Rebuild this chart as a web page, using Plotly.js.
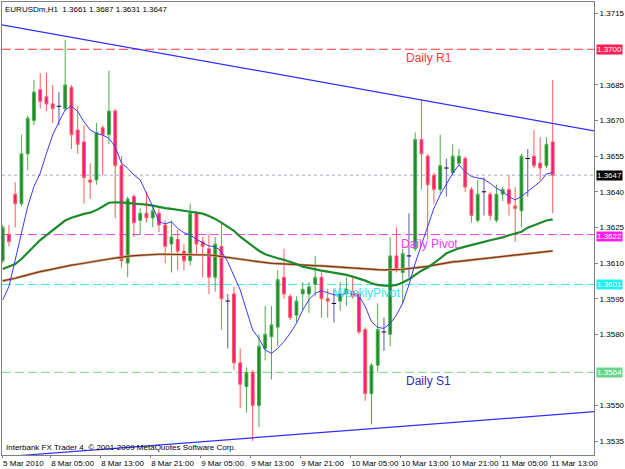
<!DOCTYPE html>
<html><head><meta charset="utf-8">
<script src="https://cdn.plot.ly/plotly-3.0.1.min.js"></script>
<style>html,body{margin:0;padding:0;background:#fff;}#chart{width:625px;height:469px;}</style>
</head><body><div id="chart"></div>
<script>
// ---- data (EURUSDm, H1) ----
const open = [1.3611,1.3622,1.3639,1.3635,1.3656,1.3670,1.3683,1.3680,1.3677,1.3676,
1.3675,1.3684,1.3666,1.3661,1.3645,1.3645,1.3667,1.3664,1.3674,1.3651,
1.3610,1.3638,1.3628,1.3631,1.3629,1.3631,1.3626,1.3618,1.3620,1.3615,
1.3611,1.3631,1.3619,1.3616,1.3604,1.3617,1.3594,1.3597,1.3568,1.3558,
1.3564,1.3550,1.3574,1.3579,1.3583,1.3604,1.3596,1.3588,1.3597,1.3597,
1.3601,1.3604,1.3595,1.3593,1.3594,1.3597,1.3598,1.3597,1.3582,1.3555,
1.3567,1.3581,1.3580,1.3613,1.3606,1.3613,1.3616,1.3662,1.3655,1.3647,
1.3641,1.3650,1.3648,1.3652,1.3654,1.3641,1.3628,1.3640,1.3639,1.3628,
1.3639,1.3641,1.3634,1.3632,1.3654,1.3655,1.3652,1.3651,1.3661];
const high = [1.3626,1.3626,1.3644,1.3664,1.3672,1.3687,1.3690,1.3690,1.3685,1.3682,
1.3704,1.3685,1.3676,1.3668,1.3652,1.3669,1.3668,1.3691,1.3675,1.3655,
1.3638,1.3639,1.3633,1.3640,1.3634,1.3633,1.3628,1.3628,1.3624,1.3618,
1.3635,1.3632,1.3621,1.3622,1.3621,1.3627,1.3597,1.3600,1.3574,1.3566,
1.3565,1.3580,1.3592,1.3592,1.3607,1.3616,1.3597,1.3596,1.3602,1.3602,
1.3613,1.3606,1.3599,1.3599,1.3602,1.3604,1.3604,1.3598,1.3583,1.3568,
1.3593,1.3587,1.3621,1.3625,1.3616,1.3631,1.3665,1.3679,1.3656,1.3648,
1.3664,1.3654,1.3660,1.3658,1.3655,1.3642,1.3645,1.3646,1.3640,1.3643,
1.3642,1.3647,1.3642,1.3656,1.3658,1.3666,1.3663,1.3663,1.3687];
const low = [1.3610,1.3617,1.3625,1.3634,1.3649,1.3668,1.3675,1.3674,1.3669,1.3668,
1.3674,1.3658,1.3656,1.3635,1.3637,1.3643,1.3647,1.3660,1.3629,1.3608,
1.3604,1.3621,1.3622,1.3627,1.3625,1.3623,1.3610,1.3606,1.3607,1.3607,
1.3609,1.3614,1.3604,1.3597,1.3598,1.3582,1.3574,1.3565,1.3549,1.3547,
1.3535,1.3541,1.3569,1.3561,1.3575,1.3595,1.3586,1.3585,1.3590,1.3589,
1.3596,1.3587,1.3587,1.3585,1.3590,1.3592,1.3595,1.3580,1.3552,1.3542,
1.3564,1.3573,1.3575,1.3606,1.3593,1.3604,1.3615,1.3641,1.3620,1.3635,
1.3639,1.3638,1.3647,1.3651,1.3640,1.3627,1.3627,1.3630,1.3628,1.3627,
1.3636,1.3630,1.3619,1.3625,1.3638,1.3650,1.3645,1.3650,1.3631];
const close = [1.3625,1.3619,1.3635,1.3656,1.3671,1.3682,1.3678,1.3677,1.3675,1.3676,
1.3685,1.3664,1.3660,1.3646,1.3644,1.3665,1.3664,1.3674,1.3651,1.3611,
1.3637,1.3627,1.3631,1.3629,1.3632,1.3626,1.3617,1.3621,1.3615,1.3611,
1.3631,1.3618,1.3617,1.3604,1.3618,1.3595,1.3594,1.3568,1.3559,1.3564,
1.3550,1.3575,1.3580,1.3584,1.3603,1.3597,1.3587,1.3594,1.3599,1.3600,
1.3604,1.3595,1.3594,1.3593,1.3597,1.3599,1.3596,1.3581,1.3555,1.3567,
1.3582,1.3581,1.3613,1.3607,1.3614,1.3613,1.3662,1.3656,1.3643,1.3641,
1.3651,1.3650,1.3655,1.3655,1.3642,1.3630,1.3639,1.3640,1.3630,1.3639,
1.3641,1.3635,1.3633,1.3655,1.3654,1.3651,1.3650,1.3660,1.3647];
const maFast = [1.35945,1.36001,1.36113,1.36225,1.36338,1.36422,1.36478,1.36562,1.36639,1.36695,
1.36745,1.36761,1.36738,1.36695,1.36660,1.36646,1.36639,1.36625,1.36590,1.36520,
1.36499,1.36471,1.36450,1.36394,1.36338,1.36274,1.36265,1.36274,1.36246,1.36228,
1.36218,1.36200,1.36186,1.36172,1.36169,1.36148,1.36106,1.36050,1.35987,1.35902,
1.35818,1.35783,1.35734,1.35720,1.35741,1.35769,1.35804,1.35846,1.35902,1.35945,
1.35973,1.35984,1.35975,1.35966,1.35966,1.35973,1.35970,1.35961,1.35917,1.35853,
1.35829,1.35825,1.35846,1.35881,1.35931,1.36008,1.36099,1.36176,1.36253,1.36331,
1.36387,1.36433,1.36478,1.36513,1.36485,1.36464,1.36457,1.36453,1.36436,1.36415,
1.36401,1.36380,1.36366,1.36380,1.36401,1.36422,1.36443,1.36475,1.36481];
const maMid = [1.36075,1.36084,1.36096,1.36117,1.36144,1.36172,1.36197,1.36218,1.36239,1.36259,
1.36279,1.36291,1.36300,1.36307,1.36312,1.36323,1.36338,1.36354,1.36356,1.36356,
1.36353,1.36350,1.36349,1.36346,1.36342,1.36336,1.36331,1.36328,1.36323,1.36321,
1.36316,1.36312,1.36308,1.36298,1.36286,1.36270,1.36253,1.36236,1.36211,1.36190,
1.36169,1.36152,1.36137,1.36127,1.36120,1.36114,1.36106,1.36096,1.36085,1.36079,
1.36072,1.36068,1.36064,1.36060,1.36055,1.36050,1.36043,1.36036,1.36026,1.36015,
1.36008,1.36005,1.36004,1.36008,1.36018,1.36032,1.36050,1.36068,1.36081,1.36099,
1.36120,1.36141,1.36152,1.36162,1.36169,1.36175,1.36180,1.36189,1.36196,1.36201,
1.36208,1.36217,1.36225,1.36232,1.36249,1.36260,1.36270,1.36279,1.36284];
const maSlow = [1.36025,1.36029,1.36036,1.36043,1.36051,1.36058,1.36064,1.36069,1.36075,1.36081,
1.36085,1.36091,1.36095,1.36100,1.36105,1.36109,1.36113,1.36117,1.36121,1.36126,
1.36128,1.36131,1.36133,1.36134,1.36135,1.36137,1.36137,1.36137,1.36137,1.36137,
1.36137,1.36137,1.36135,1.36134,1.36131,1.36128,1.36124,1.36120,1.36116,1.36113,
1.36109,1.36105,1.36102,1.36099,1.36098,1.36096,1.36095,1.36093,1.36092,1.36091,
1.36089,1.36088,1.36086,1.36085,1.36084,1.36082,1.36079,1.36078,1.36077,1.36074,
1.36072,1.36071,1.36071,1.36072,1.36074,1.36077,1.36079,1.36082,1.36086,1.36091,
1.36096,1.36100,1.36105,1.36107,1.36110,1.36113,1.36117,1.36120,1.36123,1.36126,
1.36128,1.36131,1.36134,1.36137,1.36140,1.36142,1.36145,1.36148,1.36151];
// trendline anchors [bar, price]
const trendUpperBars = [-1, 96];
const trendUpperPrices = [1.37107, 1.36650];
const trendLowerBars = [-1, 96];
const trendLowerPrices = [1.35282, 1.35477];
// levels
const levelNames = ["Daily R1", "Daily Pivot", "WeeklyPivot", "Daily S1"];
const levelValues = [1.3700, 1.3622, 1.3601, 1.3564];
const bidPrice = 1.3647;
// axes
const tickBars = [0, 8, 16, 24, 32, 40, 48, 56, 64, 72, 80, 88];
const tickText = ["5 Mar 2010","8 Mar 05:00","8 Mar 13:00","8 Mar 21:00","9 Mar 05:00","9 Mar 13:00",
 "9 Mar 21:00","10 Mar 05:00","10 Mar 13:00","10 Mar 21:00","11 Mar 05:00","11 Mar 13:00"];
const priceTicks = [1.3715,1.3685,1.3670,1.3655,1.3640,1.3625,1.3610,1.3595,1.3580,1.3550,1.3535];
const titleText = "EURUSDm,H1  1.3661 1.3687 1.3631 1.3647";
const footerText = "Interbank FX Trader 4, \u00a9 2001-2009 MetaQuotes Software Corp.";

// ---- styles ----
const levelColors = ["#ff3838", "#f040f0", "#38e6f0", "#78d88c"];
const levelTextColors = ["#ff3838", "#f040f0", "#38e6f0", "#2f2fb5"];
const levelBoxColors = ["#ff1f55", "#ff20f0", "#20f0f0", "#66d68a"];
const levelLabelBars = [64.2, 63.4, 52.7, 64.2];
const levelBoxShift = [0, -2, 0, 0];
const FONT = "Liberation Sans, Arial, sans-serif";
const X0 = -0.112, X1 = 94.61;

const bars = open.map((_, i) => i);
const isDoji = bars.map(i => open[i] === close[i]);
const cIdx = bars.filter(i => !isDoji[i]);
const dIdx = bars.filter(i => isDoji[i]);

const traces = [];
traces.push({type:'scatter', mode:'lines', x: trendUpperBars, y: trendUpperPrices,
  line:{color:'#2e2eff', width:1.2}, hoverinfo:'skip', showlegend:false});
traces.push({type:'scatter', mode:'lines', x: trendLowerBars, y: trendLowerPrices,
  line:{color:'#2e2eff', width:1.2}, hoverinfo:'skip', showlegend:false});
traces.push({type:'candlestick', x: cIdx,
  open: cIdx.map(i=>open[i]), high: cIdx.map(i=>high[i]), low: cIdx.map(i=>low[i]), close: cIdx.map(i=>close[i]),
  increasing:{line:{color:'#4cae4c', width:1}, fillcolor:'#1a8a2a'},
  decreasing:{line:{color:'#ff5c5c', width:1}, fillcolor:'#ff168c'},
  whiskerwidth:0, hoverinfo:'skip', showlegend:false});
traces.push({type:'scatter', mode:'lines',
  x: dIdx.flatMap(i=>[i,i,null]), y: dIdx.flatMap(i=>[low[i],high[i],null]),
  line:{color:'#7c7cc4', width:1.3}, hoverinfo:'skip', showlegend:false});
traces.push({type:'scatter', mode:'lines',
  x: dIdx.flatMap(i=>[i-0.35,i+0.35,null]), y: dIdx.flatMap(i=>[open[i],open[i],null]),
  line:{color:'#000000', width:1}, hoverinfo:'skip', showlegend:false});
traces.push({type:'scatter', mode:'lines', x: bars, y: maSlow,
  line:{color:'#d9a878', width:2.6}, hoverinfo:'skip', showlegend:false});
traces.push({type:'scatter', mode:'lines', x: bars, y: maSlow,
  line:{color:'#7a341c', width:1.2}, hoverinfo:'skip', showlegend:false});
traces.push({type:'scatter', mode:'lines', x: bars, y: maMid,
  line:{color:'#1e8a2a', width:2.2}, hoverinfo:'skip', showlegend:false});
traces.push({type:'scatter', mode:'lines', x: bars, y: maFast,
  line:{color:'#3a3aff', width:1}, hoverinfo:'skip', showlegend:false});

const shapes = levelValues.map((v, k) => ({type:'line', xref:'paper', x0:0, x1:1, yref:'y', y0:v, y1:v,
  line:{color:levelColors[k], width:1, dash:'9px,4px'}, layer:'below'}));
shapes.push({type:'line', xref:'paper', x0:0, x1:1, yref:'y', y0:bidPrice, y1:bidPrice,
  line:{color:'#a4a4d4', width:1, dash:'dot'}, layer:'below'});

const annotations = [];
levelNames.forEach((n, k) => {
  annotations.push({text:n, x:levelLabelBars[k], xref:'x', xanchor:'left', y:levelValues[k], yref:'y', yanchor:'top',
    yshift:0, showarrow:false, font:{family:FONT, size:12, color:levelTextColors[k]}});
  annotations.push({text:levelValues[k].toFixed(4), xref:'paper', x:1, xanchor:'left', xshift:2,
    y:levelValues[k], yref:'y', yanchor:'middle', yshift:levelBoxShift[k], height:9, valign:'middle',
    showarrow:false, bgcolor:levelBoxColors[k], borderpad:0,
    font:{family:FONT, size:8, color:'#ffffff'}});
});
annotations.push({text:bidPrice.toFixed(4), xref:'paper', x:1, xanchor:'left', xshift:2,
  y:bidPrice, yref:'y', yanchor:'middle', height:9, valign:'middle', showarrow:false, bgcolor:'#000000', borderpad:0,
  font:{family:FONT, size:8, color:'#ffffff'}});
annotations.push({text:titleText, xref:'paper', x:0, xanchor:'left', xshift:1, yref:'paper', y:1, yanchor:'top', yshift:-1,
  showarrow:false, font:{family:FONT, size:8, color:'#000000'}});
annotations.push({text:footerText, xref:'paper', x:0, xanchor:'left', xshift:2, yref:'paper', y:0, yanchor:'bottom', yshift:1,
  showarrow:false, font:{family:FONT, size:8, color:'#000000'}});

const layout = {
  width:625, height:469,
  margin:{l:2, r:31, t:2, b:14, pad:0},
  paper_bgcolor:'#ffffff', plot_bgcolor:'#ffffff',
  showlegend:false, hovermode:false,
  xaxis:{type:'linear', range:[X0, X1], rangeslider:{visible:false},
    tickmode:'array', tickvals: tickBars.map(b=>Math.max(b-0.4, X0+0.02)), ticktext: tickText,
    tickangle:0, ticklabelposition:'outside right', ticks:'outside', ticklen:2, tickcolor:'#808080',
    showgrid:false, zeroline:false, showline:true, mirror:true, linecolor:'#808080', linewidth:1,
    tickfont:{family:FONT, size:8, color:'#000000'}, automargin:false, fixedrange:true},
  yaxis:{range:[1.35292, 1.37199], side:'right', tickmode:'array', tickvals: priceTicks,
    ticktext: priceTicks.map(v=>v.toFixed(4)),
    ticks:'outside', ticklen:3, tickcolor:'#808080',
    showgrid:false, zeroline:false, showline:true, mirror:true, linecolor:'#808080', linewidth:1,
    tickfont:{family:FONT, size:8, color:'#000000'}, automargin:false, fixedrange:true},
  boxgap:0.35,
  shapes: shapes, annotations: annotations
};
Plotly.newPlot('chart', traces, layout, {displayModeBar:false, staticPlot:true});
</script></body></html>
